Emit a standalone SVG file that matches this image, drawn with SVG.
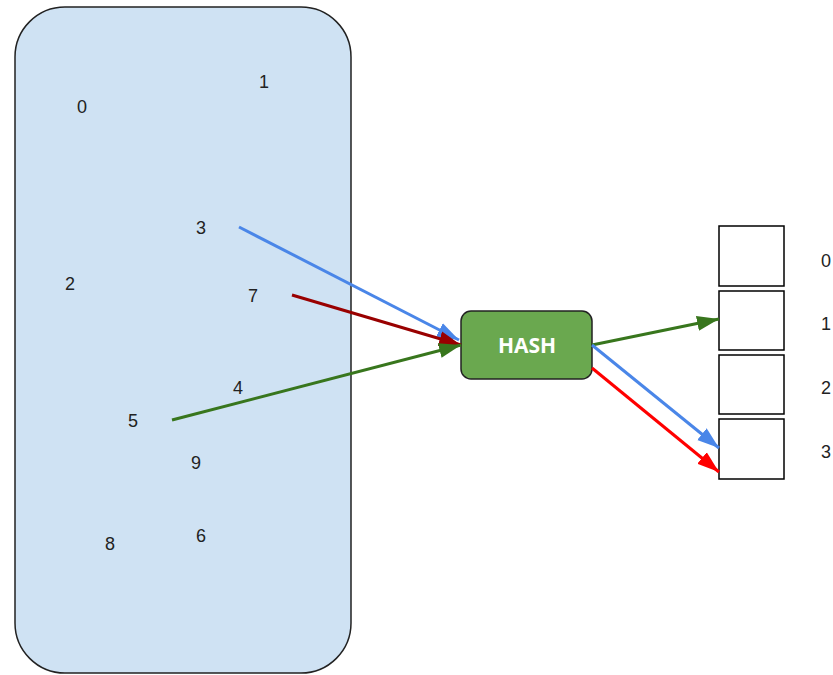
<svg xmlns="http://www.w3.org/2000/svg" width="833" height="675" viewBox="0 0 833 675">
<style>
.lbl{font-family:"Liberation Sans",Arial,sans-serif;font-size:18px;fill:#222;text-anchor:middle}
.box{fill:#fff;stroke:#000;stroke-width:1.5}
.edge{fill:none;stroke-width:3}
</style>
<defs>
<marker id="mdr" viewBox="0 0 10 10" refX="10" refY="5" markerWidth="22" markerHeight="22" orient="auto" markerUnits="userSpaceOnUse"><path d="M0,1.6 L10,5 L0,8.4 Z" fill="#990000"/></marker>
<marker id="mg" viewBox="0 0 10 10" refX="10" refY="5" markerWidth="22" markerHeight="22" orient="auto" markerUnits="userSpaceOnUse"><path d="M0,1.6 L10,5 L0,8.4 Z" fill="#38761d"/></marker>
<marker id="mbl" viewBox="0 0 10 10" refX="10" refY="5" markerWidth="22" markerHeight="22" orient="auto" markerUnits="userSpaceOnUse"><path d="M0,1.6 L10,5 L0,8.4 Z" fill="#4a86e8"/></marker>
<marker id="mr" viewBox="0 0 10 10" refX="10" refY="5" markerWidth="22" markerHeight="22" orient="auto" markerUnits="userSpaceOnUse"><path d="M0,1.6 L10,5 L0,8.4 Z" fill="#ff0000"/></marker>
</defs>
<g id="set">
<rect x="15" y="7" width="336" height="666" rx="50" ry="50" fill="#cfe2f3" stroke="#222" stroke-width="1.5"/>
<text class="lbl" x="82" y="113">0</text>
<text class="lbl" x="264" y="88">1</text>
<text class="lbl" x="201" y="234">3</text>
<text class="lbl" x="70" y="290">2</text>
<text class="lbl" x="253" y="302">7</text>
<text class="lbl" x="238" y="394">4</text>
<text class="lbl" x="133" y="427">5</text>
<text class="lbl" x="196" y="469">9</text>
<text class="lbl" x="110" y="550">8</text>
<text class="lbl" x="201" y="542">6</text>
</g>
<g id="hash">
<rect x="461" y="311" width="131" height="68" rx="10" ry="10" fill="#6aa84f" stroke="#222" stroke-width="1.5"/>
<text x="527" y="353" font-family="'Open Sans','Liberation Sans',sans-serif" font-size="21" font-weight="bold" fill="#fff" text-anchor="middle">HASH</text>
</g>
<g id="table">
<g id="b0"><rect class="box" x="719" y="226" width="65" height="60"/><text class="lbl" x="826" y="267">0</text></g>
<g id="b1"><rect class="box" x="719" y="291" width="65" height="59"/><text class="lbl" x="826" y="330">1</text></g>
<g id="b2"><rect class="box" x="719" y="355" width="65" height="59"/><text class="lbl" x="826" y="394">2</text></g>
<g id="b3"><rect class="box" x="719" y="419" width="65" height="60"/><text class="lbl" x="826" y="458">3</text></g>
</g>
<g id="connectors">
<line class="edge" x1="239" y1="227" x2="459" y2="340" stroke="#4a86e8" marker-end="url(#mbl)"/>
<line class="edge" x1="292" y1="295" x2="461" y2="345" stroke="#990000" marker-end="url(#mdr)"/>
<line class="edge" x1="172" y1="420" x2="461" y2="345" stroke="#38761d" marker-end="url(#mg)"/>
<line class="edge" x1="592" y1="345" x2="719" y2="319" stroke="#38761d" marker-end="url(#mg)"/>
<line class="edge" x1="592" y1="345" x2="719" y2="448" stroke="#4a86e8" marker-end="url(#mbl)"/>
<line class="edge" x1="592" y1="368" x2="719" y2="472" stroke="#ff0000" marker-end="url(#mr)"/>
</g>
</svg>
